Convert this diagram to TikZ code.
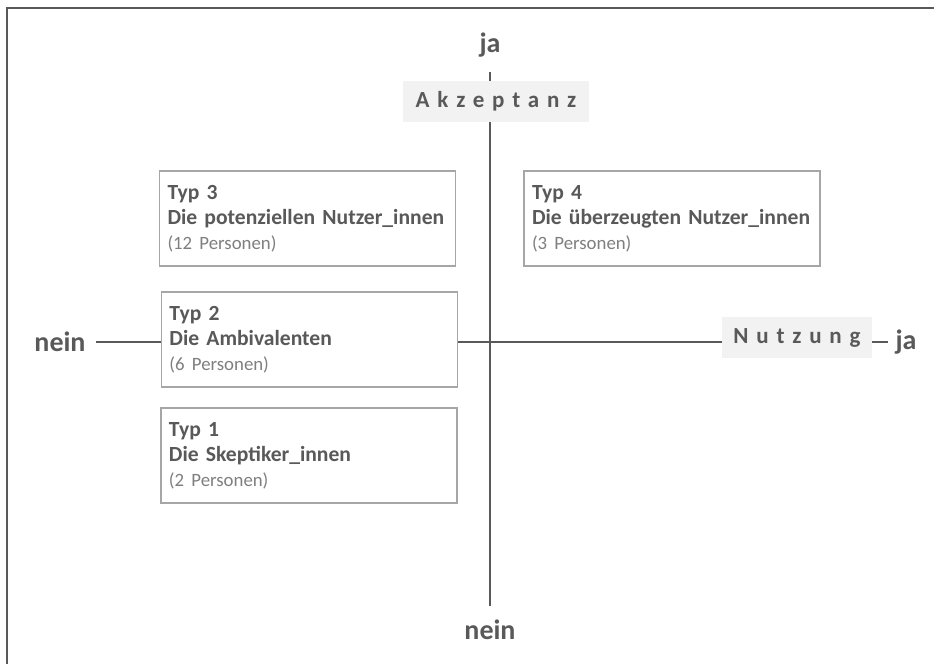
\documentclass[tikz,border=0pt]{standalone}
\usepackage{fontspec}
\setmainfont{Carlito}
\usepackage{tikz}
\definecolor{dunkel}{HTML}{595959}
\definecolor{rahmen}{HTML}{A6A6A6}
\definecolor{hell}{HTML}{F2F2F2}
\definecolor{personen}{HTML}{7F7F7F}
\newcommand{\anzahl}[1]{{\mdseries\color{personen}\fontsize{9.4}{12.6}\selectfont #1}}

\begin{document}
\begin{tikzpicture}[x=0.5pt,y=-0.5pt]
\tikzstyle{typ}=[rectangle,draw=rahmen,line width=0.6pt,fill=white,minimum width=148pt,minimum height=47.5pt,text width=140pt,inner xsep=4pt,align=left,text=dunkel,font=\fontsize{10.8}{12.6}\selectfont\bfseries]
\tikzstyle{achsname}=[rectangle,fill=hell,text=dunkel,minimum height=20.5pt,font=\fontsize{11.5}{13}\selectfont\bfseries\addfontfeatures{LetterSpace=34}]
\tikzstyle{pol}=[inner sep=0pt,text=dunkel,font=\fontsize{14}{16}\selectfont\bfseries]
\tikzstyle{achse}=[draw=dunkel,line width=1pt]
\useasboundingbox (0,0) rectangle (934,664);
\draw[achse] (7,664) -- (7,8) -- (934,8);

\node[pol] (jaoben) at (490,45) {ja};
\node[pol] (neinunten) at (490,630) {nein};
\node[pol] (neinlinks) at (60,342) {nein};
\node[pol] (jarechts) at (906,342) {ja};
\draw[achse,shorten <=7.25pt,shorten >=7pt] (jaoben) -- (neinunten);
\draw[achse,shorten <=5pt,shorten >=3.5pt] (neinlinks) -- (jarechts);

\node[achsname,minimum width=93pt] (akzeptanz) at (496,101.5) {Akzeptanz};
\node[achsname,minimum width=75pt] (nutzung) at (797,337.5) {Nutzung};

\node[typ] (typ3) at (307.5,218.5) {Typ 3\\Die potenziellen Nutzer\_innen\\\anzahl{(12 Personen)}};
\node[typ] (typ4) at (672,218.5) {Typ 4\\Die überzeugten Nutzer\_innen\\\anzahl{(3 Personen)}};
\node[typ] (typ2) at (309.5,339.5) {Typ 2\\Die Ambivalenten\\\anzahl{(6 Personen)}};
\node[typ] (typ1) at (309,455.5) {Typ 1\\Die Skeptiker\_innen\\\anzahl{(2 Personen)}};
\end{tikzpicture}
\end{document}
